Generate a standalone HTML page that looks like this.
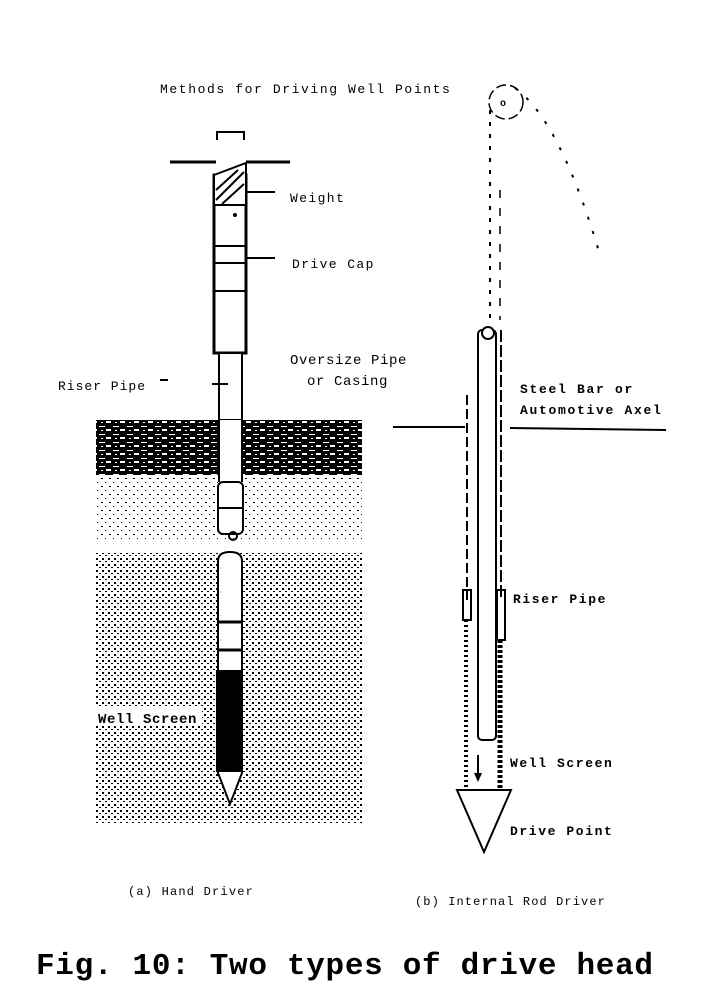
<!DOCTYPE html>
<html><head><style>
body{margin:0;background:#fff;width:714px;height:995px;overflow:hidden}
svg{display:block}
text{font-family:"Liberation Mono",monospace;fill:#000}
</style></head><body>
<svg width="714" height="995" viewBox="0 0 714 995">
<defs>
<pattern id="dense" width="6" height="6" patternUnits="userSpaceOnUse">
<rect width="6" height="6" fill="#fff"/>
<rect x="0" y="0" width="2" height="2" fill="#000"/>
<rect x="3" y="3" width="2" height="1" fill="#000"/>
</pattern>
<pattern id="light" width="8" height="8" patternUnits="userSpaceOnUse">
<rect width="8" height="8" fill="#fff"/>
<rect x="1" y="2" width="1" height="1" fill="#000"/>
<rect x="5" y="6" width="2" height="1" fill="#000"/>
</pattern>
<pattern id="dark" width="14" height="8" patternUnits="userSpaceOnUse">
<rect width="14" height="8" fill="#000"/>
<rect x="1" y="2" width="6" height="1" fill="#fff"/>
<rect x="8" y="5" width="5" height="2" fill="#fff"/>
<rect x="3" y="6" width="2" height="1" fill="#fff"/>
</pattern>
</defs>
<text x="160" y="93" font-size="13" letter-spacing="1.6">Methods for Driving Well Points</text>
<rect x="96" y="420" width="266" height="55" fill="url(#dark)"/>
<rect x="96" y="478" width="266" height="62" fill="url(#light)"/>
<rect x="96" y="553" width="266" height="270" fill="url(#dense)"/>
<path d="M217 140 V132 H244 V140" fill="none" stroke="#000" stroke-width="2"/>
<line x1="170" y1="162" x2="216" y2="162" stroke="#000" stroke-width="3"/>
<line x1="246" y1="162" x2="290" y2="162" stroke="#000" stroke-width="3"/>
<rect x="214" y="175" width="32" height="178" fill="#fff" stroke="#000" stroke-width="3"/>
<path d="M214 175 L246 163 V205 H214Z" fill="#fff" stroke="#000" stroke-width="2"/>
<path d="M216 200 L244 172 M216 190 L238 170 M222 204 L244 184" stroke="#000" stroke-width="2"/>
<line x1="214" y1="246" x2="246" y2="246" stroke="#000" stroke-width="2"/>
<line x1="214" y1="263" x2="246" y2="263" stroke="#000" stroke-width="2"/>
<line x1="214" y1="291" x2="246" y2="291" stroke="#000" stroke-width="2"/>
<circle cx="235" cy="215" r="2"/>
<line x1="246" y1="192" x2="275" y2="192" stroke="#000" stroke-width="2"/>
<line x1="246" y1="258" x2="275" y2="258" stroke="#000" stroke-width="2"/>
<rect x="219" y="353" width="23" height="67" fill="#fff" stroke="#000" stroke-width="2"/>
<line x1="212" y1="384" x2="228" y2="384" stroke="#000" stroke-width="2"/>
<rect x="219" y="420" width="23" height="62" fill="#fff"/>
<line x1="219" y1="420" x2="219" y2="482" stroke="#000" stroke-width="2"/>
<line x1="242" y1="420" x2="242" y2="482" stroke="#000" stroke-width="2"/>
<rect x="218" y="482" width="25" height="52" rx="5" fill="#fff" stroke="#000" stroke-width="2"/>
<line x1="218" y1="508" x2="243" y2="508" stroke="#000" stroke-width="2"/>
<circle cx="233" cy="536" r="4" fill="none" stroke="#000" stroke-width="2"/>
<path d="M218 561 Q218 552 230 552 Q242 552 242 561 V773 L230 804 L218 773Z" fill="#fff" stroke="#000" stroke-width="2"/>
<line x1="218" y1="622" x2="242" y2="622" stroke="#000" stroke-width="3"/>
<line x1="218" y1="650" x2="242" y2="650" stroke="#000" stroke-width="3"/>
<rect x="216" y="670" width="27" height="102" fill="#000"/>
<rect x="96" y="706" width="106" height="20" fill="#fff"/>
<text x="98" y="723" font-size="14" font-weight="bold" letter-spacing="0.6">Well Screen</text>
<text x="290" y="202" font-size="13" letter-spacing="1.4">Weight</text>
<text x="292" y="268" font-size="13" letter-spacing="1.4">Drive Cap</text>
<text x="290" y="364" font-size="14" letter-spacing="0.6">Oversize Pipe</text>
<text x="307" y="385" font-size="14" letter-spacing="0.6">or Casing</text>
<text x="58" y="390" font-size="13" letter-spacing="1">Riser Pipe</text>
<line x1="160" y1="380" x2="168" y2="380" stroke="#000" stroke-width="2"/>
<text x="128" y="895" font-size="12" letter-spacing="1.2">(a) Hand Driver</text>
<circle cx="506" cy="102" r="17" fill="none" stroke="#000" stroke-width="1.5" stroke-dasharray="10 4"/>
<text x="500" y="106" font-size="10" font-weight="bold">o</text>
<path d="M515 88 Q560 120 600 255" fill="none" stroke="#000" stroke-width="2" stroke-dasharray="3 12"/>
<path d="M490 110 V320" stroke="#000" stroke-width="2" stroke-dasharray="4 8"/>
<path d="M500 190 V320" stroke="#000" stroke-width="1.5" stroke-dasharray="8 10"/>
<rect x="478" y="330" width="18" height="410" rx="4" fill="#fff" stroke="#000" stroke-width="2"/>
<circle cx="488" cy="333" r="6" fill="#fff" stroke="#000" stroke-width="2"/>
<line x1="467" y1="395" x2="467" y2="600" stroke="#000" stroke-width="2" stroke-dasharray="10 4"/>
<line x1="501" y1="330" x2="501" y2="600" stroke="#000" stroke-width="2" stroke-dasharray="12 3"/>
<rect x="463" y="590" width="8" height="30" fill="none" stroke="#000" stroke-width="2"/>
<rect x="497" y="590" width="8" height="50" fill="none" stroke="#000" stroke-width="2"/>
<line x1="466" y1="620" x2="466" y2="788" stroke="#000" stroke-width="4" stroke-dasharray="2 3"/>
<line x1="500" y1="640" x2="500" y2="788" stroke="#000" stroke-width="5" stroke-dasharray="3 2"/>
<line x1="478" y1="755" x2="478" y2="775" stroke="#000" stroke-width="2"/>
<path d="M474 773 L482 773 L478 782Z"/>
<path d="M457 790 H511 L484 852Z" fill="#fff" stroke="#000" stroke-width="2"/>
<line x1="393" y1="427" x2="465" y2="427" stroke="#000" stroke-width="2"/>
<line x1="510" y1="428" x2="666" y2="430" stroke="#000" stroke-width="2"/>
<text x="520" y="393" font-size="13" font-weight="bold" letter-spacing="1.7">Steel Bar or</text>
<text x="520" y="414" font-size="13" font-weight="bold" letter-spacing="1.7">Automotive Axel</text>
<text x="513" y="603" font-size="13" font-weight="bold" letter-spacing="1.6">Riser Pipe</text>
<text x="510" y="767" font-size="13" font-weight="bold" letter-spacing="1.6">Well Screen</text>
<text x="510" y="835" font-size="13" font-weight="bold" letter-spacing="1.6">Drive Point</text>
<text x="415" y="905" font-size="12" letter-spacing="1.1">(b) Internal Rod Driver</text>
<text x="36" y="974" font-size="31" font-weight="bold" letter-spacing="0.7">Fig. 10: Two types of drive head</text>
</svg>
</body></html>
